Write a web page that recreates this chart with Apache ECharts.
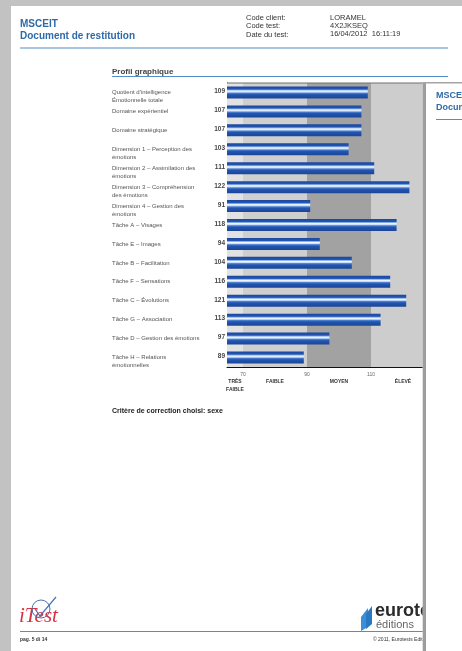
<!DOCTYPE html>
<html>
<head>
<meta charset="utf-8">
<script src="https://cdn.jsdelivr.net/npm/echarts@6/dist/echarts.min.js"></script>
<style>
html,body{margin:0;padding:0;background:#ffffff;}
#chart{width:462px;height:651px;}
</style>
</head>
<body>
<div id="chart"></div>
<script>
// ---- data ----
const categories = [
  "Quotient d'intelligence\nÉmotionnelle totale",
  "Domaine expérientiel",
  "Domaine stratégique",
  "Dimension 1 – Perception des\némotions",
  "Dimension 2 – Assimilation des\némotions",
  "Dimension 3 – Compréhension\ndes émotions",
  "Dimension 4 – Gestion des\némotions",
  "Tâche A – Visages",
  "Tâche E – Images",
  "Tâche B – Facilitation",
  "Tâche F – Sensations",
  "Tâche C – Évolutions",
  "Tâche G – Association",
  "Tâche D – Gestion des émotions",
  "Tâche H – Relations\némotionnelles"
];
const scores = [109, 107, 107, 103, 111, 122, 91, 118, 94, 104, 116, 121, 113, 97, 89];
const tickValues = [70, 90, 110];
const bandEdges = [65, 70, 90, 110, 130];
const bandNames = ["TRÈS\nFAIBLE", "FAIBLE", "MOYEN", "ÉLEVÉ"];
const headerLabels = ["Code client:", "Code test:", "Date du test:"];
const headerValues = ["LORAMEL", "4X2JKSEQ", "16/04/2012  16:11:19"];

// ---- styling ----
const FONT = '"Liberation Sans", Arial, sans-serif';
const BLUE = '#2f6aa8';
const LINEBLUE = '#4f8fc6';
const bandColors = ['#e2e2e2', '#cfcfcf', '#a2a2a2', '#cdcdcd'];
const bandMids = bandEdges.slice(0, -1).map((v, i) => (v + bandEdges[i + 1]) / 2);

const markAreaData = bandColors.map((c, i) => [
  { xAxis: bandEdges[i], itemStyle: { color: c } },
  { xAxis: bandEdges[i + 1] }
]);

const barGradient = new echarts.graphic.LinearGradient(0, 0, 0, 1, [
  { offset: 0, color: '#1b479c' },
  { offset: 0.22, color: '#2356b3' },
  { offset: 0.3, color: '#8db5e8' },
  { offset: 0.38, color: '#f4f8ff' },
  { offset: 0.47, color: '#c9ddf6' },
  { offset: 0.56, color: '#4a7fcf' },
  { offset: 0.68, color: '#2254b0' },
  { offset: 1, color: '#1a4698' }
]);

function t(text, x, y, font, fill, extra) {
  return Object.assign({
    type: 'text',
    style: { text: text, x: x, y: y, font: font, fill: fill, align: 'left', verticalAlign: 'middle' }
  }, extra || {});
}
function r(x, y, w, h, fill, z) {
  return { type: 'rect', z: z || 0, shape: { x: x, y: y, width: w, height: h }, style: { fill: fill } };
}

const graphics = [
  // outer page frame
  r(0, 0, 462, 6, '#c2c2c2'),
  r(0, 0, 11, 651, '#c2c2c2'),
  // header
  t('MSCEIT', 20, 24, 'bold 10px ' + FONT, BLUE),
  t('Document de restitution', 20, 36, 'bold 10px ' + FONT, BLUE),
  r(20, 47.5, 428, 1, LINEBLUE),
  // section title
  t('Profil graphique', 112, 72, 'bold 8px ' + FONT, '#444'),
  r(112, 76, 336, 1, LINEBLUE),
  // plot top border
  r(227, 82.5, 200, 1, '#707070', 5),
  // criterion
  t('Critère de correction choisi: sexe', 112, 411, 'bold 7px ' + FONT, '#222'),
  // footer
  r(20, 631, 410, 1, LINEBLUE),
  t('pag. 5 di 14', 20, 640, 'bold 5px ' + FONT, '#333'),
  t('© 2011, Eurotests Editions', 373, 640, '5px ' + FONT, '#333'),
  // iTest logo
  t('iTest', 19, 616, 'italic 21px "Liberation Serif", serif', '#d8323e'),
  { type: 'circle', shape: { cx: 41, cy: 609, r: 9 }, style: { fill: 'none', stroke: '#4a74b0', lineWidth: 1 } },
  { type: 'polyline', shape: { points: [[35, 609], [40, 616], [56, 597]] }, style: { fill: 'none', stroke: '#4a74b0', lineWidth: 1.2 } },
  // eurotests logo
  { type: 'polygon', shape: { points: [[361, 617], [368, 608], [368, 627], [361, 631]] }, style: { fill: '#3c8ed6' } },
  { type: 'polygon', shape: { points: [[366, 614], [372, 606], [372, 624], [366, 629]] }, style: { fill: '#2a78c2' } },
  t('eurotests', 375, 611, 'bold 18px ' + FONT, '#2b2b2b'),
  t('éditions', 376, 625, '11px ' + FONT, '#666'),
  // overlapping second page (on top)
  r(422.7, 82, 40, 569, '#ffffff', 100),
  r(422.7, 82, 3.3, 569, '#9d9d9d', 101),
  r(422.7, 82, 40, 1.5, '#a5a5a5', 101),
  t('MSCEIT', 436, 96, 'bold 9px ' + FONT, BLUE, { z: 102 }),
  t('Document de restitution', 436, 108, 'bold 9px ' + FONT, BLUE, { z: 102 }),
  r(436, 119, 30, 1, LINEBLUE, 102)
];
headerLabels.forEach((s, i) => graphics.push(t(s, 246, 18 + i * 8.3, '7.5px ' + FONT, '#333')));
headerValues.forEach((s, i) => graphics.push(t(s, 330, 17.5 + i * 8.3, '7.5px ' + FONT, '#333')));

const chart = echarts.init(document.getElementById('chart'), null, { renderer: 'canvas' });
chart.setOption({
  animation: false,
  backgroundColor: '#ffffff',
  grid: { left: 227, top: 83, width: 208, height: 284, containLabel: false, outerBoundsMode: 'none' },
  xAxis: [
    {
      type: 'value', min: bandEdges[0], max: bandEdges[bandEdges.length - 1], position: 'bottom',
      axisLine: { show: true, onZero: false, lineStyle: { color: '#111', width: 1 } },
      axisTick: { show: false }, splitLine: { show: false },
      axisLabel: { customValues: tickValues, fontSize: 5, color: '#666', margin: 5, fontFamily: FONT }
    },
    {
      type: 'value', min: bandEdges[0], max: bandEdges[bandEdges.length - 1], position: 'bottom', offset: 4,
      axisLine: { show: false }, axisTick: { show: false }, splitLine: { show: false },
      axisLabel: {
        customValues: bandMids, margin: 6, fontSize: 5, fontWeight: 'bold', color: '#333', lineHeight: 8.5,
        fontFamily: FONT, verticalAlign: 'top',
        formatter: v => bandNames[bandMids.indexOf(v)]
      }
    }
  ],
  yAxis: {
    type: 'category', data: categories, inverse: true,
    axisLine: { show: true, onZero: false, lineStyle: { color: '#111', width: 1 } },
    axisTick: { show: false },
    axisLabel: {
      interval: 0, align: 'left', margin: 115, fontSize: 6, color: '#555', lineHeight: 8, fontFamily: FONT,
      formatter: v => { const p = v.split('\n'); return ' \n' + p[0] + '\n' + (p[1] || ' '); }
    }
  },
  series: [
    {
      type: 'line', data: [], silent: true, z: 1,
      markArea: { silent: true, data: markAreaData, label: { show: false } }
    },
    {
      type: 'bar', data: scores, barWidth: 12, z: 3,
      itemStyle: { color: barGradient },
      label: {
        show: true, position: 'left', distance: 2, offset: [0, -1],
        fontSize: 6.5, fontWeight: 'bold', color: '#444', fontFamily: FONT
      }
    }
  ],
  graphic: graphics
});
</script>
</body>
</html>
